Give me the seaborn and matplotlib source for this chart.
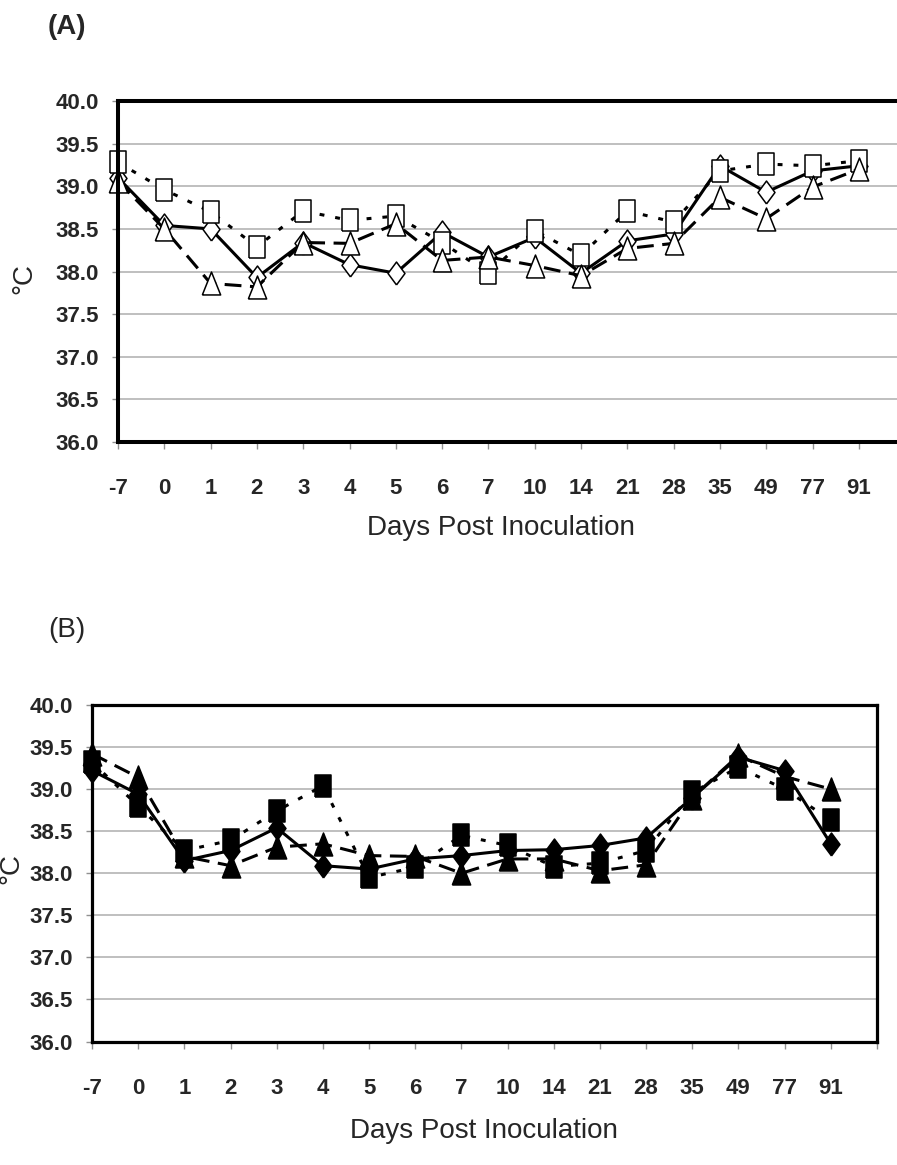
import numpy as np
import pandas as pd
import matplotlib
matplotlib.use("Agg")
import matplotlib.pyplot as plt
import seaborn as sns
from matplotlib import font_manager

sns.set_style("white")

names = {f.name for f in font_manager.fontManager.ttflist}
narrow = "Liberation Sans Narrow" if "Liberation Sans Narrow" in names else "Liberation Sans"
plt.rcParams['font.family'] = [narrow, 'DejaVu Sans']
# sizes tuned for whichever face we got
tick_fs = 18 if narrow.endswith("Narrow") else 16
label_fs = 24 if narrow.endswith("Narrow") else 20

# data
days = ["-7", "0", "1", "2", "3", "4", "5", "6", "7", "10", "14", "21", "28", "35", "49", "77", "91"]

a_diamond = [39.10, 38.54, 38.50, 37.93, 38.34, 38.08, 37.98, 38.46, 38.17, 38.40, 37.98, 38.36, 38.44, 39.24, 38.93, 39.18, 39.24]
a_square = [39.28, 38.96, 38.70, 38.29, 38.71, 38.60, 38.65, 38.34, 37.98, 38.48, 38.19, 38.71, 38.58, 39.18, 39.26, 39.24, 39.30]
a_triangle = [39.06, 38.50, 37.86, 37.82, 38.34, 38.33, 38.56, 38.13, 38.17, 38.07, 37.95, 38.27, 38.33, 38.87, 38.62, 38.99, 39.20]

b_diamond = [39.22, 38.94, 38.15, 38.27, 38.54, 38.09, 38.05, 38.17, 38.21, 38.27, 38.28, 38.33, 38.42, 38.90, 39.38, 39.22, 38.35]
b_square = [39.32, 38.80, 38.27, 38.39, 38.74, 39.04, 37.95, 38.07, 38.45, 38.33, 38.08, 38.12, 38.27, 38.96, 39.26, 39.00, 38.63]
b_triangle = [39.42, 39.14, 38.20, 38.09, 38.31, 38.35, 38.21, 38.20, 38.00, 38.17, 38.17, 38.03, 38.10, 38.90, 39.40, 39.15, 39.00]

yticks = np.arange(36.0, 40.01, 0.5)
idx = np.arange(len(days))

# markers a bit taller than wide, like the excel ones
m_diamond = [(0, -1), (0.74, 0), (0, 1), (-0.74, 0), (0, -1)]
m_square = [(-0.74, -1), (0.74, -1), (0.74, 1), (-0.74, 1), (-0.74, -1)]
m_triangle = [(-0.8, -1), (0.8, -1), (0, 1), (-0.8, -1)]

styles = [
    (m_diamond, '-'),
    (m_square, (0, (1.6, 3.6))),
    (m_triangle, (0, (5.5, 2.8))),
]

W, H = 897, 1165
fig = plt.figure(figsize=(W / 100, H / 100), dpi=100)

ax_a = fig.add_axes([118 / W, 1 - 442 / H, (960 - 118) / W, (442 - 101) / H])
ax_b = fig.add_axes([92 / W, 1 - 1041.5 / H, (877 - 92) / W, (1041.5 - 705) / H])


def draw(ax, series, fill, xmax, spine_w, sides):
    for vals, (mk, ls) in zip(series, styles):
        df = pd.DataFrame({"day": idx, "temp": vals})
        sns.lineplot(data=df, x="day", y="temp", ax=ax, color="black", lw=2.2,
                     linestyle=ls, marker=mk, markersize=16.5, markerfacecolor=fill,
                     markeredgecolor="black", markeredgewidth=1.1, errorbar=None,
                     clip_on=False)
    ax.set_xlim(0, xmax)
    ax.set_ylim(36, 40)
    ax.set_yticks(yticks)
    ax.set_yticklabels([f"{v:.1f}" for v in yticks])
    ax.set_xticks(np.arange(0, int(xmax) + 1))
    ax.set_xticklabels(days + [""] * (int(xmax) + 1 - len(days)))
    ax.yaxis.grid(True, color="#b4b4b4", lw=1.2)
    ax.xaxis.grid(False)
    ax.set_axisbelow(True)
    ax.set_xlabel("")
    ax.set_ylabel("")
    for s in ["left", "right", "top", "bottom"]:
        ax.spines[s].set_visible(s in sides)
        ax.spines[s].set_color("black")
        ax.spines[s].set_linewidth(spine_w)
    ax.tick_params(axis="x", direction="out", length=5, width=1, color="#909090",
                   pad=21, labelsize=tick_fs, bottom=True)
    ax.tick_params(axis="y", direction="out", length=4.5, width=1, color="#909090",
                   pad=9, labelsize=tick_fs, left=True)
    for t in ax.get_xticklabels() + ax.get_yticklabels():
        t.set_fontweight("bold")


draw(ax_a, [a_diamond, a_square, a_triangle], "white", (960 - 118) / 46.3, 2.9,
     ["left", "top", "bottom"])
draw(ax_b, [b_diamond, b_square, b_triangle], "black", 17, 2.3,
     ["left", "right", "top", "bottom"])

fig.text(67 / W, 1 - 27 / H, "(A)", fontsize=20, fontweight="bold",
         family=["Liberation Sans", "DejaVu Sans"], ha="center", va="center")
fig.text(67 / W, 1 - 630 / H, "(B)", fontsize=20,
         family=["Liberation Sans", "DejaVu Sans"], ha="center", va="center")

fig.text(24 / W, 1 - 278 / H, "°C", fontsize=20, rotation=90, ha="center", va="center")
fig.text(11 / W, 1 - 868 / H, "°C", fontsize=20, rotation=90, ha="center", va="center")

fig.text(501 / W, 1 - 528 / H, "Days Post Inoculation", fontsize=label_fs, ha="center", va="center")
fig.text(484 / W, 1 - 1131 / H, "Days Post Inoculation", fontsize=label_fs, ha="center", va="center")

fig.savefig("out.png", dpi=100)
